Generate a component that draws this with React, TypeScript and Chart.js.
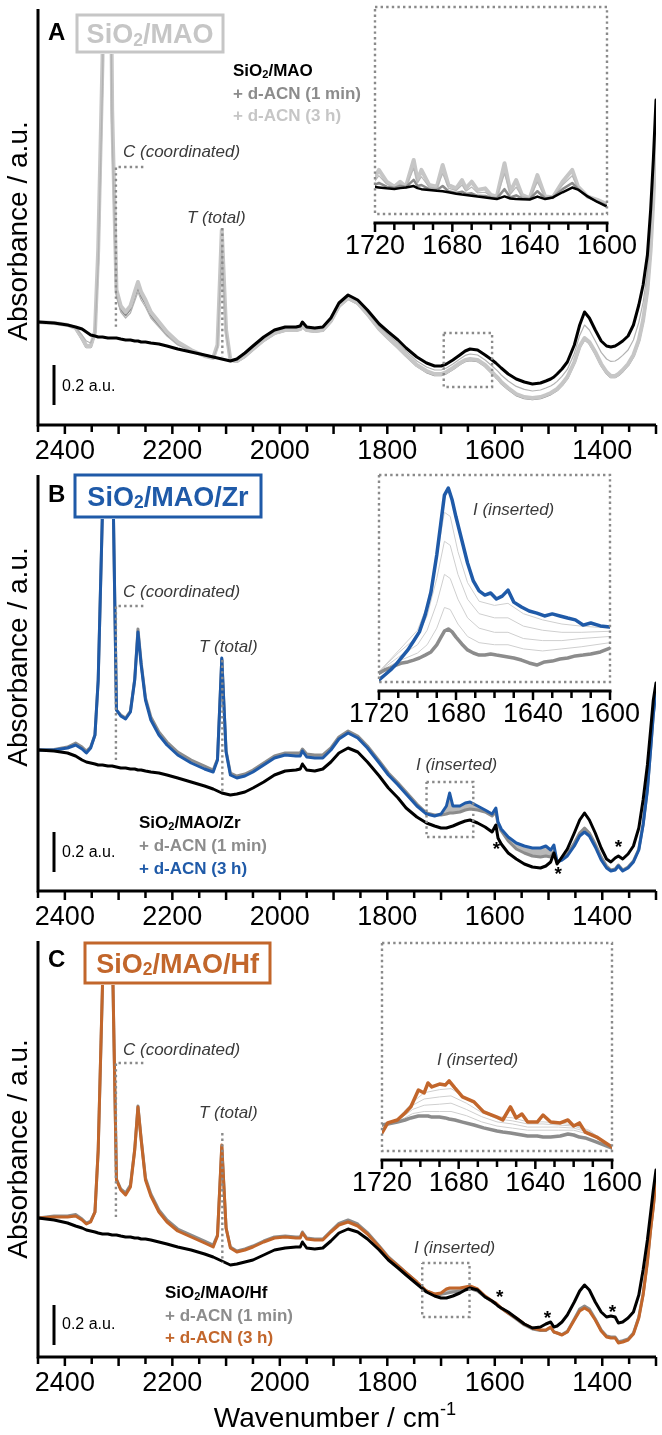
import React, { useEffect, useRef } from "react";
import { Chart, registerables } from "chart.js";

Chart.register(...registerables);

const FONT = '"Liberation Sans", Arial, sans-serif';
const BLUE = "#1f5aa8";
const ORANGE = "#c2662b";
const GRAY = "#8c8c8c";
const LIGHT = "#c6c6c6";

// ---------------- main spectra (wavenumber grid, cm-1) ----------------
const WN = [2450, 2420, 2395, 2380, 2368, 2360, 2352, 2344, 2338, 2330,
  2320, 2312, 2304, 2296, 2287, 2278, 2270, 2264, 2258, 2250,
  2240, 2225, 2210, 2190, 2165, 2140, 2124, 2116, 2108, 2100,
  2092, 2080, 2065, 2050, 2030, 2010, 1990, 1970, 1962, 1958,
  1950, 1935, 1920, 1905, 1890, 1873, 1855, 1837, 1815, 1798,
  1780, 1765, 1745, 1727, 1712, 1700, 1690, 1684, 1678, 1665,
  1655, 1646, 1632, 1618, 1605, 1598, 1594, 1588, 1575, 1560,
  1545, 1530, 1515, 1505, 1496, 1490, 1484, 1475, 1465, 1452,
  1442, 1433, 1424, 1413, 1402, 1392, 1384, 1376, 1370, 1362,
  1352, 1342, 1332, 1324, 1316, 1310, 1305, 1300];

// Panel A: SiO2/MAO (absorbance, a.u., offset)
const A_BASE = [0.515, 0.51, 0.50, 0.49, 0.48, 0.465, 0.45, 0.445, 0.44, 0.44,
  0.435, 0.435, 0.435, 0.43, 0.425, 0.425, 0.42, 0.42, 0.415, 0.415,
  0.41, 0.405, 0.395, 0.38, 0.365, 0.35, 0.34, 0.335, 0.33, 0.325,
  0.32, 0.33, 0.36, 0.395, 0.44, 0.475, 0.49, 0.49, 0.495, 0.515,
  0.49, 0.485, 0.49, 0.535, 0.61, 0.65, 0.625, 0.575, 0.505, 0.465,
  0.425, 0.385, 0.34, 0.31, 0.295, 0.295, 0.305, 0.315, 0.325, 0.35,
  0.37, 0.38, 0.375, 0.35, 0.325, 0.31, 0.30, 0.285, 0.255, 0.23,
  0.215, 0.205, 0.21, 0.22, 0.23, 0.24, 0.255, 0.28, 0.315, 0.40,
  0.50, 0.565, 0.535, 0.475, 0.42, 0.395, 0.39, 0.395, 0.405, 0.42,
  0.445, 0.50, 0.60, 0.70, 0.85, 1.075, 1.325, 1.625];
const A_1MIN = [0.515, 0.51, 0.50, 0.483, 0.43, 0.39, 0.39, 0.46, 0.84, 1.78,
  3.8, 1.52, 0.66, 0.58, 0.55, 0.58, 0.645, 0.69, 0.645, 0.61,
  0.55, 0.50, 0.455, 0.41, 0.372, 0.345, 0.335, 0.395, 0.94, 0.47,
  0.322, 0.317, 0.342, 0.377, 0.422, 0.457, 0.472, 0.472, 0.477, 0.492,
  0.472, 0.467, 0.472, 0.517, 0.592, 0.632, 0.607, 0.552, 0.477, 0.432,
  0.387, 0.347, 0.296, 0.265, 0.25, 0.25, 0.26, 0.27, 0.28, 0.305,
  0.32, 0.325, 0.32, 0.295, 0.26, 0.24, 0.23, 0.21, 0.18, 0.15,
  0.135, 0.13, 0.135, 0.145, 0.155, 0.165, 0.175, 0.20, 0.235, 0.31,
  0.39, 0.43, 0.41, 0.36, 0.30, 0.26, 0.24, 0.24, 0.25, 0.27,
  0.30, 0.345, 0.42, 0.52, 0.67, 0.87, 1.12, 1.42];
const A_3H = [0.515, 0.51, 0.50, 0.485, 0.435, 0.395, 0.395, 0.465, 0.875, 1.825,
  4.0, 1.575, 0.675, 0.595, 0.565, 0.595, 0.665, 0.715, 0.665, 0.625,
  0.565, 0.515, 0.465, 0.415, 0.375, 0.345, 0.335, 0.40, 0.975, 0.475,
  0.325, 0.32, 0.345, 0.38, 0.425, 0.46, 0.475, 0.475, 0.48, 0.495,
  0.475, 0.47, 0.475, 0.52, 0.595, 0.635, 0.61, 0.555, 0.48, 0.435,
  0.39, 0.35, 0.30, 0.27, 0.255, 0.255, 0.265, 0.275, 0.285, 0.31,
  0.325, 0.33, 0.325, 0.30, 0.265, 0.245, 0.235, 0.215, 0.185, 0.155,
  0.14, 0.135, 0.14, 0.15, 0.16, 0.17, 0.18, 0.205, 0.24, 0.315,
  0.395, 0.435, 0.415, 0.365, 0.305, 0.265, 0.245, 0.245, 0.255, 0.275,
  0.305, 0.35, 0.425, 0.525, 0.675, 0.875, 1.125, 1.425];
const A_MID = [0.515, 0.51, 0.50, 0.487, 0.45, 0.42, 0.41, 0.46, 0.80, 1.70,
  3.5, 1.45, 0.64, 0.565, 0.535, 0.56, 0.62, 0.665, 0.625, 0.59,
  0.535, 0.49, 0.445, 0.40, 0.37, 0.345, 0.335, 0.39, 0.90, 0.46,
  0.325, 0.325, 0.353, 0.388, 0.433, 0.468, 0.483, 0.483, 0.488, 0.505,
  0.483, 0.478, 0.483, 0.528, 0.603, 0.643, 0.618, 0.565, 0.493, 0.45,
  0.408, 0.368, 0.32, 0.29, 0.275, 0.275, 0.285, 0.295, 0.305, 0.33,
  0.348, 0.355, 0.35, 0.325, 0.295, 0.278, 0.268, 0.25, 0.22, 0.193,
  0.178, 0.17, 0.175, 0.185, 0.195, 0.205, 0.218, 0.243, 0.278, 0.358,
  0.448, 0.50, 0.475, 0.42, 0.363, 0.33, 0.318, 0.32, 0.33, 0.348,
  0.375, 0.425, 0.513, 0.613, 0.763, 0.975, 1.225, 1.525];

// Panel B: SiO2/MAO/Zr
const B_BASE = [0.705, 0.70, 0.69, 0.675, 0.655, 0.645, 0.64, 0.635, 0.63, 0.63,
  0.625, 0.625, 0.62, 0.615, 0.615, 0.61, 0.61, 0.605, 0.605, 0.60,
  0.595, 0.59, 0.58, 0.565, 0.545, 0.525, 0.51, 0.50, 0.49, 0.485,
  0.48, 0.485, 0.495, 0.515, 0.545, 0.58, 0.60, 0.605, 0.61, 0.635,
  0.605, 0.60, 0.61, 0.645, 0.69, 0.715, 0.695, 0.645, 0.575, 0.515,
  0.465, 0.415, 0.37, 0.34, 0.325, 0.315, 0.315, 0.32, 0.325, 0.34,
  0.35, 0.355, 0.34, 0.32, 0.295, 0.33, 0.265, 0.235, 0.19, 0.16,
  0.135, 0.12, 0.115, 0.125, 0.145, 0.19, 0.135, 0.17, 0.21, 0.29,
  0.355, 0.39, 0.355, 0.29, 0.215, 0.16, 0.145, 0.165, 0.175, 0.16,
  0.185, 0.225, 0.315, 0.455, 0.63, 0.805, 0.955, 1.04];
const B_1MIN = [0.705, 0.708, 0.72, 0.74, 0.72, 0.70, 0.72, 0.78, 1.05, 1.90,
  4.1, 2.28, 0.905, 0.88, 0.865, 0.90, 1.06, 1.31, 1.14, 0.965,
  0.87, 0.795, 0.745, 0.695, 0.655, 0.625, 0.605, 0.66, 1.16, 0.70,
  0.59, 0.575, 0.585, 0.605, 0.64, 0.675, 0.69, 0.69, 0.69, 0.71,
  0.685, 0.68, 0.68, 0.715, 0.77, 0.80, 0.775, 0.725, 0.65, 0.59,
  0.54, 0.495, 0.435, 0.39, 0.38, 0.38, 0.385, 0.39, 0.39, 0.395,
  0.405, 0.41, 0.405, 0.395, 0.375, 0.395, 0.335, 0.30, 0.25, 0.21,
  0.19, 0.175, 0.17, 0.175, 0.17, 0.195, 0.145, 0.16, 0.185, 0.24,
  0.29, 0.315, 0.29, 0.235, 0.17, 0.125, 0.105, 0.11, 0.13, 0.105,
  0.12, 0.15, 0.21, 0.335, 0.51, 0.71, 0.885, 1.01];
const B_3H = [0.705, 0.705, 0.715, 0.73, 0.71, 0.69, 0.715, 0.78, 1.055, 1.905,
  4.2, 2.3, 0.905, 0.875, 0.86, 0.895, 1.055, 1.295, 1.13, 0.955,
  0.855, 0.78, 0.73, 0.68, 0.64, 0.61, 0.595, 0.655, 1.165, 0.695,
  0.58, 0.565, 0.575, 0.595, 0.63, 0.665, 0.68, 0.675, 0.675, 0.70,
  0.67, 0.665, 0.665, 0.705, 0.76, 0.79, 0.765, 0.715, 0.64, 0.58,
  0.53, 0.485, 0.425, 0.385, 0.375, 0.385, 0.425, 0.49, 0.425, 0.425,
  0.44, 0.445, 0.425, 0.405, 0.385, 0.415, 0.345, 0.31, 0.27, 0.24,
  0.225, 0.215, 0.215, 0.225, 0.205, 0.23, 0.145, 0.155, 0.175, 0.225,
  0.275, 0.295, 0.275, 0.22, 0.155, 0.115, 0.10, 0.105, 0.125, 0.10,
  0.115, 0.145, 0.205, 0.33, 0.505, 0.705, 0.88, 1.005];

// Panel C: SiO2/MAO/Hf
const C_BASE = [0.695, 0.685, 0.67, 0.655, 0.645, 0.635, 0.63, 0.625, 0.62, 0.615,
  0.615, 0.61, 0.61, 0.605, 0.60, 0.60, 0.595, 0.595, 0.59, 0.59,
  0.585, 0.575, 0.565, 0.55, 0.535, 0.515, 0.50, 0.49, 0.48, 0.47,
  0.46, 0.465, 0.475, 0.485, 0.51, 0.535, 0.545, 0.55, 0.55, 0.575,
  0.545, 0.54, 0.545, 0.58, 0.62, 0.64, 0.625, 0.59, 0.535, 0.485,
  0.445, 0.41, 0.365, 0.325, 0.305, 0.295, 0.295, 0.30, 0.305, 0.32,
  0.335, 0.345, 0.335, 0.30, 0.28, 0.265, 0.255, 0.245, 0.225, 0.195,
  0.165, 0.145, 0.15, 0.165, 0.175, 0.15, 0.155, 0.175, 0.21, 0.275,
  0.33, 0.36, 0.335, 0.275, 0.225, 0.20, 0.205, 0.20, 0.17, 0.175,
  0.195, 0.225, 0.31, 0.435, 0.585, 0.72, 0.835, 0.935];
const C_1MIN = [0.695, 0.705, 0.705, 0.712, 0.69, 0.67, 0.68, 0.725, 1.03, 1.85,
  4.1, 2.08, 0.89, 0.84, 0.82, 0.86, 1.04, 1.255, 1.09, 0.895,
  0.815, 0.735, 0.685, 0.64, 0.61, 0.58, 0.56, 0.61, 1.05, 0.645,
  0.55, 0.53, 0.54, 0.555, 0.58, 0.60, 0.605, 0.60, 0.60, 0.625,
  0.595, 0.59, 0.59, 0.63, 0.668, 0.685, 0.665, 0.622, 0.555, 0.50,
  0.458, 0.422, 0.375, 0.33, 0.313, 0.313, 0.318, 0.322, 0.325, 0.33,
  0.338, 0.342, 0.33, 0.30, 0.277, 0.267, 0.258, 0.243, 0.218, 0.19,
  0.16, 0.14, 0.132, 0.133, 0.148, 0.125, 0.12, 0.112, 0.128, 0.19,
  0.24, 0.255, 0.24, 0.19, 0.135, 0.105, 0.10, 0.10, 0.077, 0.082,
  0.09, 0.12, 0.20, 0.315, 0.48, 0.64, 0.755, 0.89];
const C_3H = [0.695, 0.70, 0.70, 0.705, 0.685, 0.665, 0.675, 0.725, 1.035, 1.86,
  4.2, 2.1, 0.885, 0.835, 0.81, 0.85, 1.035, 1.25, 1.085, 0.885,
  0.805, 0.725, 0.675, 0.63, 0.60, 0.57, 0.55, 0.605, 1.06, 0.645,
  0.545, 0.525, 0.535, 0.55, 0.575, 0.595, 0.60, 0.595, 0.595, 0.62,
  0.59, 0.585, 0.585, 0.625, 0.66, 0.675, 0.655, 0.615, 0.55, 0.495,
  0.455, 0.42, 0.375, 0.33, 0.315, 0.32, 0.34, 0.345, 0.345, 0.345,
  0.35, 0.355, 0.34, 0.305, 0.28, 0.27, 0.26, 0.245, 0.22, 0.195,
  0.165, 0.145, 0.135, 0.135, 0.15, 0.125, 0.12, 0.11, 0.125, 0.185,
  0.23, 0.245, 0.23, 0.185, 0.13, 0.10, 0.095, 0.095, 0.07, 0.075,
  0.085, 0.115, 0.195, 0.31, 0.475, 0.635, 0.75, 0.885];

// ---------------- insets (1720-1600 cm-1, relative absorbance) ----------------
const IA_WN = [1720, 1718, 1714, 1710, 1707, 1704, 1700, 1698, 1696, 1692, 1688, 1685, 1682, 1678, 1675,
  1673, 1670, 1667, 1663, 1660, 1657, 1653, 1650, 1647, 1644, 1640, 1636, 1632, 1628, 1623, 1618, 1615,
  1610, 1605, 1600];
const IA_BASE = [0.130, 0.128, 0.124, 0.121, 0.125, 0.128, 0.135, 0.125, 0.120, 0.116, 0.112, 0.110, 0.105,
  0.098, 0.094, 0.092, 0.088, 0.084, 0.080, 0.076, 0.072, 0.085, 0.075, 0.072, 0.071, 0.070, 0.084, 0.072,
  0.080, 0.105, 0.128, 0.118, 0.085, 0.058, 0.036];
const IA_1MIN = [0.14, 0.15, 0.132, 0.126, 0.135, 0.13, 0.165, 0.135, 0.14, 0.12, 0.116, 0.135, 0.11, 0.102,
  0.108, 0.097, 0.10, 0.088, 0.087, 0.079, 0.075, 0.12, 0.08, 0.09, 0.075, 0.072, 0.11, 0.075, 0.08, 0.12,
  0.15, 0.12, 0.083, 0.06, 0.04];
const IA_MID = [0.16, 0.185, 0.145, 0.128, 0.145, 0.13, 0.22, 0.15, 0.18, 0.13, 0.124, 0.195, 0.125, 0.113,
  0.14, 0.11, 0.13, 0.102, 0.105, 0.085, 0.08, 0.195, 0.095, 0.13, 0.085, 0.074, 0.155, 0.08, 0.08, 0.14,
  0.185, 0.125, 0.084, 0.064, 0.044];
const IA_3H = [0.180, 0.213, 0.156, 0.132, 0.156, 0.132, 0.261, 0.164, 0.213, 0.140, 0.132, 0.237, 0.140,
  0.124, 0.164, 0.124, 0.156, 0.116, 0.124, 0.092, 0.084, 0.245, 0.108, 0.164, 0.092, 0.076, 0.188, 0.084,
  0.081, 0.156, 0.213, 0.132, 0.084, 0.068, 0.048];

const IB_WN = [1720, 1717, 1714, 1711, 1708, 1705, 1702, 1699, 1696, 1693, 1690, 1688, 1686, 1684, 1682,
  1680, 1677, 1674, 1671, 1668, 1665, 1662, 1659, 1656, 1653, 1650, 1646, 1642, 1638, 1634, 1630, 1626,
  1622, 1618, 1614, 1610, 1605, 1600];
const IB_3H = [0.010, 0.034, 0.058, 0.087, 0.121, 0.155, 0.198, 0.242, 0.324, 0.435, 0.614, 0.758, 0.903,
  0.937, 0.879, 0.797, 0.686, 0.575, 0.488, 0.440, 0.420, 0.430, 0.401, 0.415, 0.444, 0.386, 0.362, 0.343,
  0.333, 0.319, 0.329, 0.319, 0.309, 0.300, 0.275, 0.285, 0.271, 0.266];
const IB_1MIN = [0.043, 0.058, 0.068, 0.082, 0.092, 0.097, 0.106, 0.116, 0.130, 0.145, 0.179, 0.213, 0.246,
  0.256, 0.242, 0.217, 0.184, 0.155, 0.140, 0.130, 0.130, 0.135, 0.130, 0.126, 0.121, 0.116, 0.106, 0.092,
  0.082, 0.097, 0.101, 0.111, 0.116, 0.126, 0.130, 0.135, 0.145, 0.164];
const IB_MID_WN = [1720, 1710, 1700, 1695, 1690, 1686, 1683, 1679, 1674, 1668, 1660, 1653, 1645, 1635, 1625, 1615, 1600];
const IB_MID1 = [0.05, 0.10, 0.14, 0.18, 0.26, 0.36, 0.35, 0.28, 0.22, 0.19, 0.18, 0.18, 0.16, 0.15, 0.16, 0.17, 0.19];
const IB_MID2 = [0.05, 0.12, 0.18, 0.25, 0.38, 0.52, 0.50, 0.40, 0.31, 0.26, 0.24, 0.24, 0.21, 0.20, 0.20, 0.21, 0.22];
const IB_MID3 = [0.05, 0.14, 0.22, 0.32, 0.50, 0.68, 0.66, 0.52, 0.40, 0.33, 0.31, 0.31, 0.27, 0.25, 0.24, 0.24, 0.245];
const IB_MID4 = [0.05, 0.15, 0.25, 0.37, 0.60, 0.82, 0.80, 0.63, 0.48, 0.39, 0.37, 0.38, 0.33, 0.30, 0.28, 0.27, 0.26];

const IC_WN = [1720, 1717, 1712, 1708, 1705, 1701, 1698, 1696, 1694, 1690, 1687, 1685, 1682, 1678, 1672,
  1667, 1660, 1657, 1653, 1650, 1647, 1644, 1639, 1636, 1632, 1627, 1623, 1620, 1617, 1614, 1608, 1600];
const IC_3H = [0.087, 0.135, 0.149, 0.183, 0.212, 0.293, 0.279, 0.327, 0.308, 0.322, 0.317, 0.337, 0.303,
  0.260, 0.236, 0.188, 0.163, 0.149, 0.212, 0.159, 0.178, 0.139, 0.139, 0.173, 0.139, 0.135, 0.149, 0.120,
  0.135, 0.091, 0.067, 0.019];
const IC_1MIN = [0.125, 0.130, 0.139, 0.149, 0.159, 0.168, 0.168, 0.168, 0.163, 0.163, 0.159, 0.154, 0.149,
  0.139, 0.125, 0.111, 0.096, 0.091, 0.087, 0.082, 0.077, 0.072, 0.072, 0.067, 0.067, 0.072, 0.082, 0.077,
  0.067, 0.063, 0.043, 0.014];
const IC_MID_WN = [1720, 1712, 1704, 1698, 1690, 1684, 1676, 1668, 1660, 1652, 1644, 1636, 1628, 1620, 1612, 1600];
const IC_MID1 = [0.13, 0.14, 0.18, 0.19, 0.19, 0.19, 0.17, 0.14, 0.12, 0.11, 0.10, 0.10, 0.10, 0.10, 0.08, 0.02];
const IC_MID2 = [0.13, 0.145, 0.20, 0.22, 0.225, 0.23, 0.20, 0.165, 0.14, 0.13, 0.115, 0.115, 0.115, 0.11, 0.09, 0.02];
const IC_MID3 = [0.13, 0.15, 0.22, 0.25, 0.26, 0.265, 0.23, 0.185, 0.155, 0.145, 0.13, 0.13, 0.125, 0.12, 0.095, 0.02];
const IC_MID4 = [0.12, 0.155, 0.235, 0.28, 0.295, 0.30, 0.255, 0.20, 0.165, 0.16, 0.14, 0.14, 0.135, 0.125, 0.10, 0.02];

// ---------------- axis ticks ----------------
const MAIN_TICK_LABELS = [2400, 2200, 2000, 1800, 1600, 1400];
const INSET_TICK_LABELS = [1720, 1680, 1640, 1600];

// ---------------- helpers ----------------
const pts = (xs: number[], ys: number[]) => xs.map((x, i) => ({ x, y: ys[i] }));

type Seg = { t: string; sub?: boolean; sup?: boolean };
const sio = (rest: string): Seg[] => [{ t: "SiO" }, { t: "2", sub: true }, { t: rest }];

function drawRich(ctx: CanvasRenderingContext2D, x: number, baseline: number, segs: Seg[], size: number,
  color: string, weight = "normal", style = "normal", align = "left") {
  let total = 0;
  const sizes = segs.map((s) => (s.sub || s.sup ? size * 0.65 : size));
  segs.forEach((s, i) => {
    ctx.font = `${style} ${weight} ${sizes[i]}px ${FONT}`;
    total += ctx.measureText(s.t).width;
  });
  let cx = align === "center" ? x - total / 2 : x;
  ctx.fillStyle = color;
  ctx.textAlign = "left";
  ctx.textBaseline = "alphabetic";
  segs.forEach((s, i) => {
    ctx.font = `${style} ${weight} ${sizes[i]}px ${FONT}`;
    const dy = s.sub ? size * 0.1 : s.sup ? -size * 0.42 : 0;
    ctx.fillText(s.t, cx, baseline + dy);
    cx += ctx.measureText(s.t).width;
  });
}

function dottedPath(ctx: CanvasRenderingContext2D, path: number[][]) {
  ctx.save();
  ctx.setLineDash([2.4, 3.2]);
  ctx.lineWidth = 2.4;
  ctx.strokeStyle = "#8a8a8a";
  ctx.beginPath();
  path.forEach(([px, py], i) => (i === 0 ? ctx.moveTo(px, py) : ctx.lineTo(px, py)));
  ctx.stroke();
  ctx.restore();
}

// ---------------- panel layout (styles / positions) ----------------
const PANELS = [
  {
    id: "A", top: 0, h: 466, color: LIGHT, title: sio("/MAO"), box: [77, 15, 223, 52], letterY: 33,
    legendX: 233, legendY: [70, 93, 115], legendColors: ["#000", GRAY, LIGHT], yTitleCy: 231,
    barV0: 0.10, barTextY: 387, coordY: 152, bracketY: 167, coordEnd: 330, totalX: 187, totalY: 218,
    totalStart: 228, totalEnd: 357, smallBox: [1695, 1605, 333, 387], inserted: null as null | number[],
    stars: [] as number[][], xTitle: false,
    datasets: () => [
      { data: pts(WN, A_BASE), borderColor: "#000", borderWidth: 3 },
      { data: pts(WN, A_MID), borderColor: "#b2b2b2", borderWidth: 1.2 },
      { data: pts(WN, A_3H), borderColor: LIGHT, borderWidth: 4 },
      { data: pts(WN, A_1MIN), borderColor: GRAY, borderWidth: 2.5 },
    ],
  },
  {
    id: "B", top: 466, h: 466, color: BLUE, title: sio("/MAO/Zr"), box: [75, 9, 261, 51], letterY: 29,
    legendX: 139, legendY: [356, 379, 402], legendColors: ["#000", GRAY, BLUE], yTitleCy: 191,
    barV0: 0.095, barTextY: 387, coordY: 126, bracketY: 140, coordEnd: 294, totalX: 199, totalY: 181,
    totalStart: 194, totalEnd: 327, smallBox: [1727, 1640, 316, 371], inserted: [416, 299],
    stars: [[1597, 381], [1482, 406], [1370, 379]], xTitle: false,
    datasets: () => [
      { data: pts(WN, B_BASE), borderColor: "#000", borderWidth: 3 },
      { data: pts(WN, B_3H), borderColor: BLUE, borderWidth: 3 },
      { data: pts(WN, B_1MIN), borderColor: GRAY, borderWidth: 3, fill: 1, backgroundColor: "#b9b9b9" },
    ],
  },
  {
    id: "C", top: 932, h: 503, color: ORANGE, title: sio("/MAO/Hf"), box: [85, 11, 270, 51], letterY: 28,
    legendX: 165, legendY: [360, 383, 405], legendColors: ["#000", GRAY, ORANGE], yTitleCy: 217,
    barV0: 0.06, barTextY: 393, coordY: 118, bracketY: 131, coordEnd: 285, totalX: 199, totalY: 181,
    totalStart: 201, totalEnd: 331, smallBox: [1735, 1647, 331, 385], inserted: [414, 316],
    stars: [[1591, 363], [1502, 384], [1381, 378]], xTitle: true,
    datasets: () => [
      { data: pts(WN, C_BASE), borderColor: "#000", borderWidth: 3 },
      { data: pts(WN, C_3H), borderColor: ORANGE, borderWidth: 3 },
      { data: pts(WN, C_1MIN), borderColor: GRAY, borderWidth: 3, fill: 1, backgroundColor: "#b9b9b9" },
    ],
  },
];

const INSET_LEFT = 320;
const INSETS = [
  {
    id: "iA", top: 0, pad: { left: 375 - INSET_LEFT, right: 38, top: 7, bottom: 54 }, inserted: null as null | number[],
    datasets: () => [
      { data: pts(IA_WN, IA_BASE), borderColor: "#000", borderWidth: 2.5 },
      { data: pts(IA_WN, IA_1MIN), borderColor: GRAY, borderWidth: 2.5 },
      { data: pts(IA_WN, IA_MID), borderColor: "#b8b8b8", borderWidth: 1.2 },
      { data: pts(IA_WN, IA_3H), borderColor: LIGHT, borderWidth: 4 },
    ],
  },
  {
    id: "iB", top: 466, pad: { left: 379 - INSET_LEFT, right: 35, top: 9, bottom: 52 }, inserted: [473 - INSET_LEFT, 44],
    datasets: () => [
      { data: pts(IB_WN, IB_3H), borderColor: BLUE, borderWidth: 3.5 },
      { data: pts(IB_WN, IB_1MIN), borderColor: GRAY, borderWidth: 3.5 },
      { data: pts(IB_MID_WN, IB_MID4), borderColor: "#cfcfcf", borderWidth: 1 },
      { data: pts(IB_MID_WN, IB_MID3), borderColor: "#cfcfcf", borderWidth: 1 },
      { data: pts(IB_MID_WN, IB_MID2), borderColor: "#cfcfcf", borderWidth: 1 },
      { data: pts(IB_MID_WN, IB_MID1), borderColor: "#cfcfcf", borderWidth: 1 },
    ],
  },
  {
    id: "iC", top: 932, pad: { left: 382 - INSET_LEFT, right: 33, top: 11, bottom: 49 }, inserted: [437 - INSET_LEFT, 128],
    datasets: () => [
      { data: pts(IC_WN, IC_3H), borderColor: ORANGE, borderWidth: 3.5 },
      { data: pts(IC_WN, IC_1MIN), borderColor: GRAY, borderWidth: 3.5 },
      { data: pts(IC_MID_WN, IC_MID4), borderColor: "#cfcfcf", borderWidth: 1 },
      { data: pts(IC_MID_WN, IC_MID3), borderColor: "#cfcfcf", borderWidth: 1 },
      { data: pts(IC_MID_WN, IC_MID2), borderColor: "#cfcfcf", borderWidth: 1 },
      { data: pts(IC_MID_WN, IC_MID1), borderColor: "#cfcfcf", borderWidth: 1 },
    ],
  },
];

// ---------------- decorations ----------------
function drawMain(chart: any, P: any) {
  const { ctx, chartArea: ca } = chart;
  const xs = chart.scales.x;
  const ys = chart.scales.y;
  ctx.save();

  // title box (covers clipped peak tops)
  const [bx1, by1, bx2, by2] = P.box;
  ctx.fillStyle = "#fff";
  ctx.fillRect(bx1 - 2, 0, bx2 - bx1 + 4, by2 + 2);
  ctx.lineWidth = 3;
  ctx.strokeStyle = P.color;
  ctx.strokeRect(bx1, by1, bx2 - bx1, by2 - by1);
  drawRich(ctx, (bx1 + bx2) / 2, (by1 + by2) / 2 + 27 * 0.36, P.title, 27, P.color, "bold", "normal", "center");

  // panel letter
  ctx.fillStyle = "#000";
  ctx.font = `bold 24px ${FONT}`;
  ctx.textAlign = "left";
  ctx.textBaseline = "middle";
  ctx.fillText(P.id, 48, P.letterY);

  // axes
  ctx.strokeStyle = "#000";
  ctx.lineWidth = 3;
  ctx.beginPath();
  ctx.moveTo(ca.left, ca.top);
  ctx.lineTo(ca.left, ca.bottom);
  ctx.moveTo(ca.left - 1.5, ca.bottom);
  ctx.lineTo(ca.right, ca.bottom);
  ctx.stroke();
  ctx.lineWidth = 2.5;
  ctx.beginPath();
  for (let w = 2450; w >= 1300; w -= 50) {
    const px = xs.getPixelForValue(w);
    ctx.moveTo(px, ca.bottom);
    ctx.lineTo(px, ca.bottom + (w % 100 === 0 ? 9 : 7));
  }
  ctx.stroke();
  ctx.fillStyle = "#000";
  ctx.font = `27px ${FONT}`;
  ctx.textAlign = "center";
  ctx.textBaseline = "middle";
  MAIN_TICK_LABELS.forEach((w) => ctx.fillText(String(w), xs.getPixelForValue(w), ca.bottom + 27));

  // y title
  ctx.save();
  ctx.translate(27, P.yTitleCy);
  ctx.rotate(-Math.PI / 2);
  ctx.font = `28px ${FONT}`;
  ctx.textAlign = "center";
  ctx.textBaseline = "alphabetic";
  ctx.fillText("Absorbance / a.u.", 0, 0);
  ctx.restore();

  // x title
  if (P.xTitle) {
    drawRich(ctx, 335, ca.bottom + 70, [{ t: "Wavenumber / cm" }, { t: "-1", sup: true }], 28, "#000", "normal", "normal", "center");
  }

  // scale bar
  ctx.strokeStyle = "#000";
  ctx.lineWidth = 3;
  ctx.beginPath();
  ctx.moveTo(54, ys.getPixelForValue(P.barV0));
  ctx.lineTo(54, ys.getPixelForValue(P.barV0 + 0.2));
  ctx.stroke();
  ctx.fillStyle = "#000";
  ctx.font = `16px ${FONT}`;
  ctx.textAlign = "left";
  ctx.textBaseline = "middle";
  ctx.fillText("0.2 a.u.", 62, P.barTextY);

  // legend
  const legendTexts = [P.title, [{ t: "+ d-ACN (1 min)" }], [{ t: "+ d-ACN (3 h)" }]];
  legendTexts.forEach((segs: Seg[], i: number) =>
    drawRich(ctx, P.legendX, P.legendY[i] + 17 * 0.36, segs, 17, P.legendColors[i], "bold"));

  // band annotations
  const ital = `italic 17px ${FONT}`;
  ctx.font = ital;
  ctx.fillStyle = "#3a3a3a";
  ctx.textAlign = "left";
  ctx.textBaseline = "middle";
  ctx.fillText("C (coordinated)", 123, P.coordY);
  ctx.fillText("T (total)", P.totalX, P.totalY);
  const cx1 = xs.getPixelForValue(2305);
  const cx2 = xs.getPixelForValue(2254);
  dottedPath(ctx, [[cx2, P.bracketY], [cx1, P.bracketY], [cx1, P.coordEnd]]);
  const tx = xs.getPixelForValue(2107);
  dottedPath(ctx, [[tx, P.totalStart], [tx, P.totalEnd]]);
  const [w1, w2, sy1, sy2] = P.smallBox;
  const sx1 = xs.getPixelForValue(w1);
  const sx2 = xs.getPixelForValue(w2);
  dottedPath(ctx, [[sx1, sy1], [sx2, sy1], [sx2, sy2], [sx1, sy2], [sx1, sy1]]);
  if (P.inserted) {
    ctx.font = ital;
    ctx.fillStyle = "#3a3a3a";
    ctx.textAlign = "left";
    ctx.textBaseline = "middle";
    ctx.fillText("I (inserted)", P.inserted[0], P.inserted[1]);
  }
  ctx.fillStyle = "#000";
  ctx.font = `bold 19px ${FONT}`;
  ctx.textAlign = "center";
  ctx.textBaseline = "middle";
  P.stars.forEach(([w, y]: number[]) => ctx.fillText("*", xs.getPixelForValue(w), y + 3));
  ctx.restore();
}

function drawInset(chart: any, P: any) {
  const { ctx, chartArea: ca } = chart;
  const xs = chart.scales.x;
  ctx.save();
  dottedPath(ctx, [[ca.left, ca.top], [ca.right, ca.top], [ca.right, ca.bottom], [ca.left, ca.bottom], [ca.left, ca.top]]);
  const ay = ca.bottom + 9;
  ctx.strokeStyle = "#000";
  ctx.lineWidth = 3;
  ctx.beginPath();
  ctx.moveTo(ca.left - 1.5, ay);
  ctx.lineTo(ca.right + 1.5, ay);
  ctx.stroke();
  ctx.lineWidth = 2.5;
  ctx.beginPath();
  for (let w = 1720; w >= 1600; w -= 10) {
    const px = xs.getPixelForValue(w);
    ctx.moveTo(px, ay);
    ctx.lineTo(px, ay + (w % 40 === 0 ? 9 : 7));
  }
  ctx.stroke();
  ctx.fillStyle = "#000";
  ctx.font = `27px ${FONT}`;
  ctx.textAlign = "center";
  ctx.textBaseline = "middle";
  INSET_TICK_LABELS.forEach((w) => ctx.fillText(String(w), xs.getPixelForValue(w), ay + 24));
  if (P.inserted) {
    ctx.font = `italic 17px ${FONT}`;
    ctx.fillStyle = "#3a3a3a";
    ctx.textAlign = "left";
    ctx.fillText("I (inserted)", P.inserted[0], P.inserted[1]);
  }
  ctx.restore();
}

function baseOptions(pad: any, xmin: number, xmax: number, ymax: number) {
  return {
    responsive: false,
    animation: false,
    events: [],
    layout: { padding: pad },
    plugins: { legend: { display: false }, tooltip: { enabled: false } },
    elements: {
      point: { radius: 0, hoverRadius: 0 },
      line: { tension: 0, borderJoinStyle: "round", borderCapStyle: "round", fill: false },
    },
    scales: {
      x: { type: "linear", reverse: true, min: xmin, max: xmax, display: false },
      y: { type: "linear", min: 0, max: ymax, display: false },
    },
  };
}

function CanvasChart({ make, left, top, width, height }: any) {
  const ref = useRef<HTMLCanvasElement | null>(null);
  useEffect(() => {
    const chart = new Chart(ref.current as HTMLCanvasElement, make());
    return () => chart.destroy();
  }, []);
  return (
    <canvas ref={ref} width={width} height={height}
      style={{ position: "absolute", left, top, width, height, display: "block" }} />
  );
}

export default function App() {
  return (
    <div style={{ position: "absolute", left: 0, top: 0, width: 662, height: 1435, background: "#fff", overflow: "hidden" }}>
      {PANELS.map((P) => (
        <CanvasChart key={P.id} left={0} top={P.top} width={662} height={P.h}
          make={() => ({
            type: "line",
            data: { datasets: P.datasets().map((d: any) => ({ pointRadius: 0, fill: false, ...d })) },
            options: baseOptions({ left: 38, right: 6, top: 9, bottom: P.h - 425 }, 1300, 2450, 416 / 200),
            plugins: [{ id: "deco" + P.id, afterDraw: (c: any) => drawMain(c, P) }],
          })} />
      ))}
      {INSETS.map((P) => (
        <CanvasChart key={P.id} left={INSET_LEFT} top={P.top} width={645 - INSET_LEFT} height={268}
          make={() => ({
            type: "line",
            data: { datasets: P.datasets().map((d: any) => ({ pointRadius: 0, fill: false, ...d })) },
            options: baseOptions(P.pad, 1600, 1720, 1),
            plugins: [{ id: "deco" + P.id, afterDraw: (c: any) => drawInset(c, P) }],
          })} />
      ))}
    </div>
  );
}
